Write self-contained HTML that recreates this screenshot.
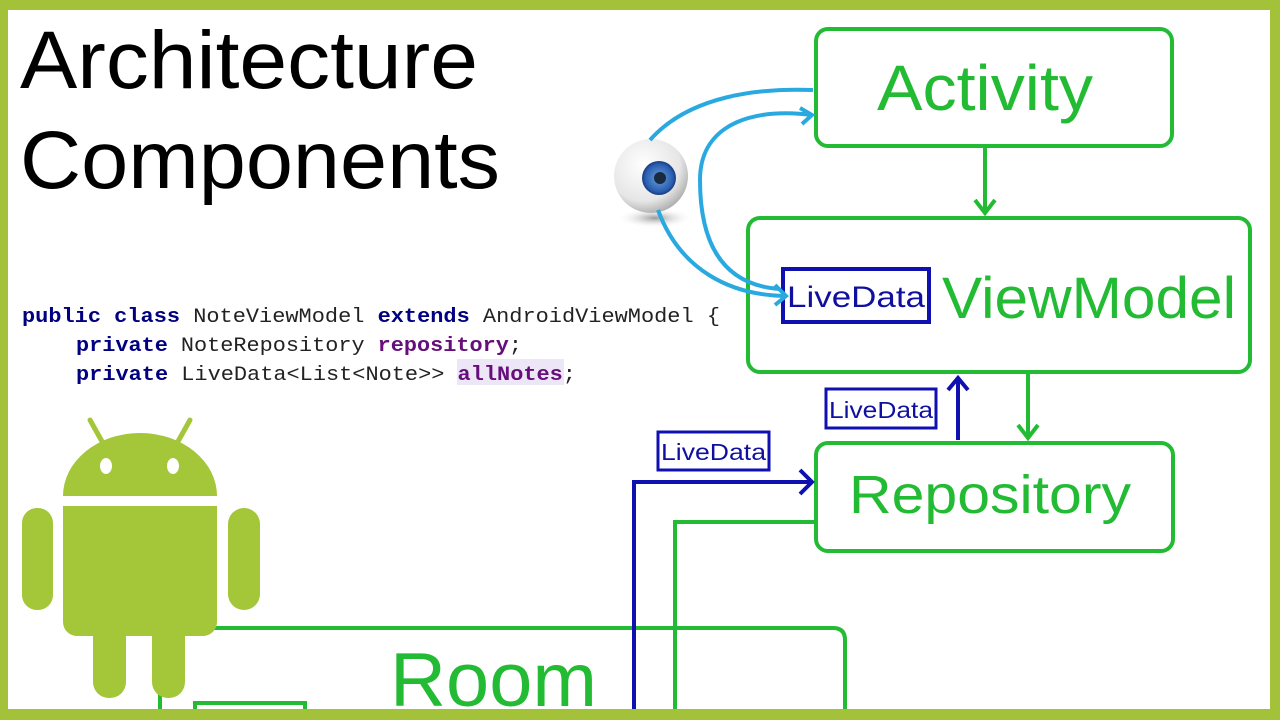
<!DOCTYPE html>
<html><head><meta charset="utf-8"><style>
html,body{margin:0;padding:0;background:#fff;}
svg{display:block;}
</style></head><body>
<svg width="1280" height="720" viewBox="0 0 1280 720" xmlns="http://www.w3.org/2000/svg">
<defs>
<radialGradient id="eyeball" cx="0.4" cy="0.35" r="0.7"><stop offset="0" stop-color="#ffffff"/><stop offset="0.7" stop-color="#e6e6e6"/><stop offset="1" stop-color="#a8a8a8"/></radialGradient>
<radialGradient id="iris" cx="0.5" cy="0.5" r="0.5"><stop offset="0" stop-color="#6aa0e0"/><stop offset="0.8" stop-color="#2a5fb0"/><stop offset="1" stop-color="#1a3a80"/></radialGradient>
<radialGradient id="shadow" cx="0.5" cy="0.5" r="0.5"><stop offset="0" stop-color="#999"/><stop offset="1" stop-color="#fff" stop-opacity="0"/></radialGradient>
</defs>
<rect width="1280" height="720" fill="#fff"/>
<g font-family="Liberation Sans, sans-serif">
<text x="20" y="88" font-size="82" textLength="458" lengthAdjust="spacingAndGlyphs" fill="#000">Architecture</text>
<text x="20" y="188" font-size="82" textLength="480" lengthAdjust="spacingAndGlyphs" fill="#000">Components</text>
</g>
<!-- code -->
<rect x="457" y="359" width="107" height="26" fill="#ece6f6"/>
<g font-family="Liberation Mono, monospace" font-size="20" fill="#222">
<text x="22" y="322" textLength="698" lengthAdjust="spacingAndGlyphs"><tspan fill="#000080" font-weight="bold">public class</tspan> NoteViewModel <tspan fill="#000080" font-weight="bold">extends</tspan> AndroidViewModel {</text>
<text x="76" y="351" textLength="446" lengthAdjust="spacingAndGlyphs"><tspan fill="#000080" font-weight="bold">private</tspan> NoteRepository <tspan fill="#660e7a" font-weight="bold">repository</tspan>;</text>
<text x="76" y="380" textLength="500" lengthAdjust="spacingAndGlyphs"><tspan fill="#000080" font-weight="bold">private</tspan> LiveData&lt;List&lt;Note&gt;&gt; <tspan fill="#660e7a" font-weight="bold">allNotes</tspan>;</text>
</g>
<!-- boxes -->
<g fill="none" stroke="#22bb33" stroke-width="4">
<rect x="816" y="29" width="356" height="117" rx="12"/>
<rect x="748" y="218" width="502" height="154" rx="12"/>
<rect x="816" y="443" width="357" height="108" rx="12"/>
<path d="M160 720 V628 H833 Q845 628 845 640 V720"/>
<rect x="195" y="703" width="110" height="30"/>
<path d="M985 146 V213 M975 200 L985 213 L995 200"/>
<path d="M1028 372 V438 M1018 425 L1028 438 L1038 425"/>
<path d="M816 522 H675 V710"/>
</g>
<g font-family="Liberation Sans, sans-serif" fill="#22bb33">
<text x="877" y="110" font-size="64" textLength="216" lengthAdjust="spacingAndGlyphs">Activity</text>
<text x="942" y="318" font-size="58" textLength="294" lengthAdjust="spacingAndGlyphs">ViewModel</text>
<text x="849" y="513" font-size="54" textLength="282" lengthAdjust="spacingAndGlyphs">Repository</text>
<text x="390" y="706" font-size="76" textLength="207" lengthAdjust="spacingAndGlyphs">Room</text>
</g>
<!-- blue -->
<g fill="none" stroke="#1010b0" stroke-width="4">
<rect x="783" y="269" width="146" height="53"/>
<rect x="826" y="389" width="110" height="39" stroke-width="3"/>
<rect x="658" y="432" width="111" height="38" stroke-width="3"/>
<path d="M958 440 V378 M948 390 L958 378 L968 390"/>
<path d="M634 710 V482 H810 M800 470 L812 482 L800 494"/>
</g>
<g font-family="Liberation Sans, sans-serif" fill="#1010a0">
<text x="787" y="307" font-size="30" textLength="138" lengthAdjust="spacingAndGlyphs">LiveData</text>
<text x="829" y="418" font-size="23" textLength="104" lengthAdjust="spacingAndGlyphs">LiveData</text>
<text x="661" y="460" font-size="23" textLength="105" lengthAdjust="spacingAndGlyphs">LiveData</text>
</g>
<!-- eye -->
<ellipse cx="655" cy="218" rx="38" ry="10" fill="url(#shadow)"/>
<circle cx="651" cy="176" r="37" fill="url(#eyeball)"/>
<circle cx="659" cy="178" r="17" fill="url(#iris)"/>
<circle cx="660" cy="178" r="6" fill="#1a2a40"/>
<g fill="none" stroke="#29a9e0" stroke-width="4">
<path d="M650 140 C690 95 760 88 813 90"/>
<path d="M780 289 C720 285 700 240 700 180 C700 120 760 108 812 115 M800 108 L812 115 L802 124"/>
<path d="M658 210 C680 270 730 295 785 296 M775 285 L786 296 L775 305"/>
</g>
<!-- android -->
<g fill="#a4c639">
<path d="M63 496 A77 63 0 0 1 217 496 Z"/>
<rect x="63" y="506" width="154" height="130" rx="14"/>
<rect x="63" y="506" width="154" height="30"/>
<rect x="22" y="508" width="31" height="102" rx="15"/>
<rect x="228" y="508" width="32" height="102" rx="16"/>
<rect x="93" y="620" width="33" height="78" rx="16"/>
<rect x="152" y="620" width="33" height="78" rx="16"/>
<path d="M90 420 L104 445" stroke="#a4c639" stroke-width="5" stroke-linecap="round"/>
<path d="M190 420 L176 445" stroke="#a4c639" stroke-width="5" stroke-linecap="round"/>
</g>
<ellipse cx="106" cy="466" rx="6" ry="8" fill="#fff"/>
<ellipse cx="173" cy="466" rx="6" ry="8" fill="#fff"/>
<!-- frame -->
<g fill="#a4c13a">
<rect x="0" y="0" width="1280" height="10"/>
<rect x="0" y="0" width="8" height="720"/>
<rect x="1270" y="0" width="10" height="720"/>
<rect x="0" y="709" width="1280" height="11"/>
</g>
</svg>
</body></html>
